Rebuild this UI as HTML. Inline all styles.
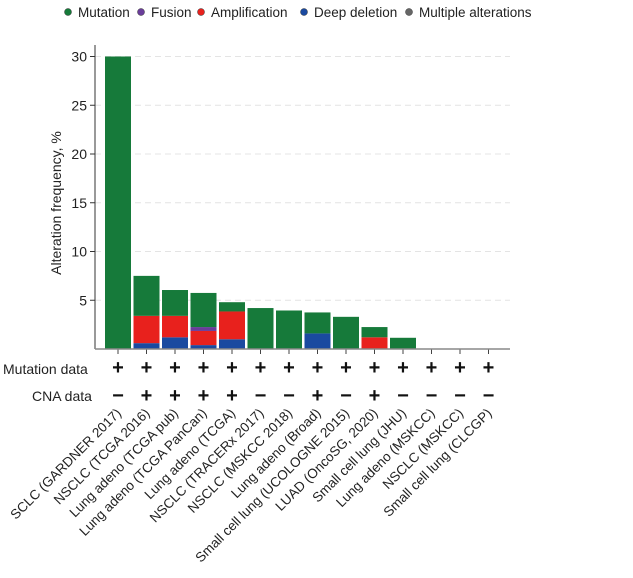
<!DOCTYPE html>
<html><head><meta charset="utf-8"><style>
body{margin:0;background:#fff;font-family:"Liberation Sans",sans-serif}
svg text{font-family:"Liberation Sans",sans-serif}
</style></head><body>
<svg width="633" height="573" id="c">
<g id="legend"></g>
<g id="plot"></g>
</svg>
<script>
const categories=["SCLC (GARDNER 2017)","NSCLC (TCGA 2016)","Lung adeno (TCGA pub)","Lung adeno (TCGA PanCan)","Lung adeno (TCGA)","NSCLC (TRACERx 2017)","NSCLC (MSKCC 2018)","Lung adeno (Broad)","Small cell lung (UCOLOGNE 2015)","LUAD (OncoSG, 2020)","Small cell lung (JHU)","Lung adeno (MSKCC)","NSCLC (MSKCC)","Small cell lung (CLCGP)"];
const deepDeletion=[0,0.6,1.2,0.4,1.0,0,0,1.6,0,0,0,0,0,0];
const amplification=[0,2.8,2.2,1.45,2.85,0,0,0,0,1.2,0,0,0,0];
const fusion=[0,0,0,0.4,0,0,0,0,0,0,0,0,0,0];
const mutation=[30,4.1,2.65,3.5,0.95,4.2,3.95,2.15,3.3,1.05,1.15,0,0,0];
const mutationData=["+","+","+","+","+","+","+","+","+","+","+","+","+","+"];
const cnaData=["−","+","+","+","+","−","−","+","−","+","−","−","−","−"];
const yTicks=[5,10,15,20,25,30];
const NS="http://www.w3.org/2000/svg";
const plot=document.getElementById('plot'),leg=document.getElementById('legend');
function mk(t,a,p){const e=document.createElementNS(NS,t);for(const k in a)e.setAttribute(k,a[k]);(p||plot).appendChild(e);return e;}
const x0=95,x1=510,yBase=349,pxPer=9.75;
const y=v=>yBase-v*pxPer;
const xc=i=>118+i*28.5;
const L=[["Mutation","#167a3a",68],["Fusion","#6a3d9a",141],["Amplification","#e8211d",201],["Deep deletion","#1a4aa0",304],["Multiple alterations","#666",409]];
L.forEach(l=>{const g=mk('g',{},leg);


mk('circle',{cx:l[2],cy:12,r:3.5,fill:l[1],stroke:'#333','stroke-width':0.5},g);
const t=mk('text',{x:l[2]+10,y:17,'font-size':13.5,fill:'#222',textLength:0},g);t.removeAttribute('textLength');t.textContent=l[0];});
yTicks.forEach(v=>{const gl=mk('line',{x1:x0,x2:x1,y1:y(v),y2:y(v),stroke:'#e4e4e4','stroke-dasharray':'6,4'});


mk('line',{x1:x0-5,x2:x0,y1:y(v),y2:y(v),stroke:'#333'});
const t=mk('text',{x:x0-8,y:y(v)+5,'text-anchor':'end','font-size':14,fill:'#222'});t.textContent=v;

});
const yt=mk('text',{transform:'translate(61,203) rotate(-90)','text-anchor':'middle','font-size':14,fill:'#222'});yt.textContent='Alteration frequency, %';


const series=[[deepDeletion,'#1a4aa0'],[amplification,'#e8211d'],[fusion,'#6a3d9a'],[mutation,'#167a3a']];
categories.forEach((c,i)=>{let acc=0;
series.forEach(s=>{const v=s[0][i];if(v>0){const r=mk('rect',{x:xc(i)-13,width:26,y:y(acc+v),height:v*pxPer,fill:s[1]});

}acc+=v;});
mk('line',{x1:xc(i),x2:xc(i),y1:yBase,y2:yBase+5,stroke:'#444'});
const m=mk('text',{x:xc(i),y:374,'text-anchor':'middle','font-size':20,'font-weight':'bold',fill:'#111'});m.textContent=mutationData[i];


const n=mk('text',{x:xc(i),y:402,'text-anchor':'middle','font-size':20,'font-weight':'bold',fill:'#111'});n.textContent=cnaData[i];


const lb=mk('text',{transform:`translate(${xc(i)+4},${414}) rotate(-45)`,'text-anchor':'end','font-size':13.5,fill:'#222'});lb.textContent=c;

});
mk('line',{x1:x0,x2:x0,y1:45,y2:yBase,stroke:'#333'});
mk('line',{x1:x0,x2:x1,y1:yBase,y2:yBase,stroke:'#888','stroke-width':1.5});
const r1=mk('text',{x:3,y:374,'font-size':14,fill:'#222'});r1.textContent='Mutation data';


const r2=mk('text',{x:32,y:401,'font-size':14,fill:'#222'});r2.textContent='CNA data';


</script>
</body></html>
